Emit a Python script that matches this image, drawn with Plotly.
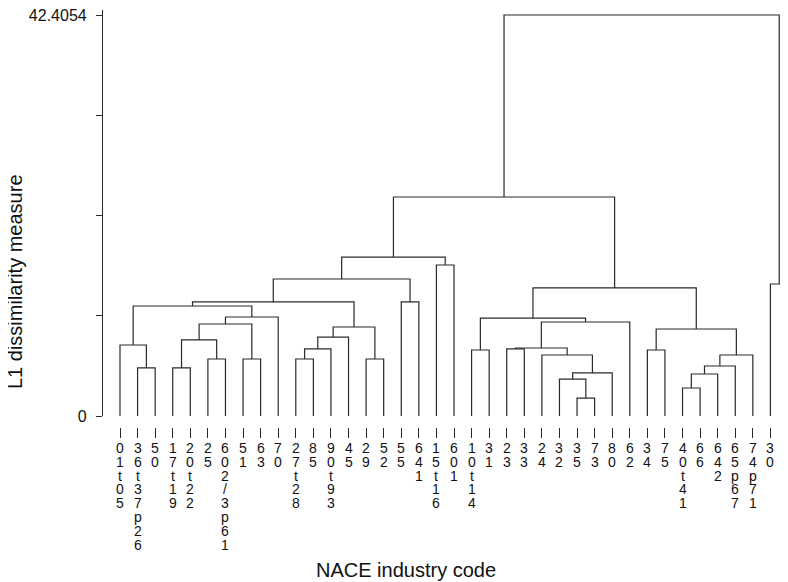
import plotly.graph_objects as go

# ---------------- data ----------------
leaf_labels = ["01t05", "36t37p26", "50", "17t19", "20t22", "25", "602/3p61", "51",
               "63", "70", "27t28", "85", "90t93", "45", "29", "52", "55", "641",
               "15t16", "601", "10t14", "31", "23", "33", "24", "32", "35", "73",
               "80", "62", "34", "75", "40t41", "66", "642", "65p67", "74p71",
               "30", "72"]

# linkage: node n+k = merge of merge_left[k] and merge_right[k] at merge_height[k]
merge_left = [1, 0, 3, 5, 41, 7, 43, 45, 40, 10, 48, 49, 14, 50, 47, 16, 53, 18,
              55, 20, 22, 26, 25, 61, 24, 59, 64, 58, 30, 32, 68, 69, 70, 67, 66,
              57, 37, 74]
merge_right = [2, 39, 4, 6, 42, 8, 44, 9, 46, 11, 12, 13, 15, 51, 52, 17, 54, 19,
               56, 21, 23, 27, 60, 28, 62, 63, 29, 65, 31, 33, 34, 35, 36, 71, 72,
               73, 38, 75]
merge_height = [5.08, 7.51, 5.08, 6.03, 8.04, 6.03, 9.73, 10.47, 11.63, 6.03, 7.09,
                8.35, 6.03, 9.41, 12.06, 12.06, 14.49, 15.97, 16.81, 6.98, 7.09,
                1.90, 3.91, 4.55, 6.45, 7.19, 9.94, 10.36, 6.98, 2.96, 4.44, 5.29,
                6.45, 9.20, 13.54, 23.16, 13.96, 42.4054]

y_tick_vals = [0, 10.6014, 21.2027, 31.8041, 42.4054]
y_tick_text = ["0", "", "", "", "42.4054"]

# ---------------- build dendrogram segments ----------------
n = len(leaf_labels)
pos = {i: float(i) for i in range(n)}
hgt = {i: 0.0 for i in range(n)}
xs, ys = [], []
for k, (a, b, h) in enumerate(zip(merge_left, merge_right, merge_height)):
    node = n + k
    xs += [pos[a], pos[a], pos[b], pos[b], None]
    ys += [hgt[a], h, h, hgt[b], None]
    pos[node] = (pos[a] + pos[b]) / 2
    hgt[node] = h

LINE = "#2a2a2a"
FONT = "Liberation Sans, Arial, sans-serif"

fig = go.Figure()
fig.add_trace(go.Scatter(x=xs, y=ys, mode="lines",
                         line=dict(color=LINE, width=1.2),
                         hoverinfo="skip", showlegend=False))

# vertical stacked leaf labels (one character per line)
annotations = []
for i, lab in enumerate(leaf_labels):
    for k, ch in enumerate(lab):
        annotations.append(dict(x=i, y=0, xref="x", yref="y", text=ch,
                                showarrow=False, xanchor="center", yanchor="middle",
                                yshift=-(32 + 13.8 * k),
                                font=dict(family=FONT, size=14, color="#111")))

# page body has an 8px default margin: lay out in page pixels accordingly
OFF = 8
W, H = 788 - OFF, 582 - OFF
plot_left, plot_top, plot_bottom = 103, 10, 427
ml, mr = plot_left - OFF, 0
mt = plot_top - OFF
mb = H - (plot_bottom - OFF)
ph = plot_bottom - plot_top
pw = W - ml - mr
d0 = 11 / ph
ytop = y_tick_vals[-1] * (ph - 11) / 401.0


def px_x(q):
    return (q - plot_left) / pw


def px_y(p):
    return (plot_bottom - p) / ph


annotations.append(dict(x=px_x(15), y=px_y(282), xref="paper", yref="paper",
                        text="L1 dissimilarity measure", textangle=-90, showarrow=False,
                        xanchor="center", yanchor="middle",
                        font=dict(family=FONT, size=20, color="#111")))
annotations.append(dict(x=px_x(406), y=px_y(570), xref="paper", yref="paper",
                        text="NACE industry code", showarrow=False,
                        xanchor="center", yanchor="middle",
                        font=dict(family=FONT, size=20, color="#111")))

fig.update_layout(
    width=W, height=H,
    margin=dict(l=ml, r=mr, t=mt, b=mb, pad=0),
    paper_bgcolor="white", plot_bgcolor="white",
    showlegend=False,
    annotations=annotations,
    xaxis=dict(range=[-0.967, n - 1], anchor="free", position=0,
               showline=False, showgrid=False, zeroline=False,
               ticks="outside", ticklen=10, tickwidth=1.2, tickcolor=LINE,
               tickvals=list(range(n)), showticklabels=False, fixedrange=True),
    yaxis=dict(domain=[d0, 1], range=[0, ytop],
               showline=True, linecolor=LINE, linewidth=1.2,
               showgrid=False, zeroline=False,
               ticks="outside", ticklen=6, tickwidth=1.2, tickcolor=LINE,
               tickvals=y_tick_vals, ticktext=y_tick_text,
               tickfont=dict(family=FONT, size=16, color="#111"),
               ticklabeloverflow="allow",
               ticklabelstandoff=6, fixedrange=True),
)

fig.write_html("out.html")
